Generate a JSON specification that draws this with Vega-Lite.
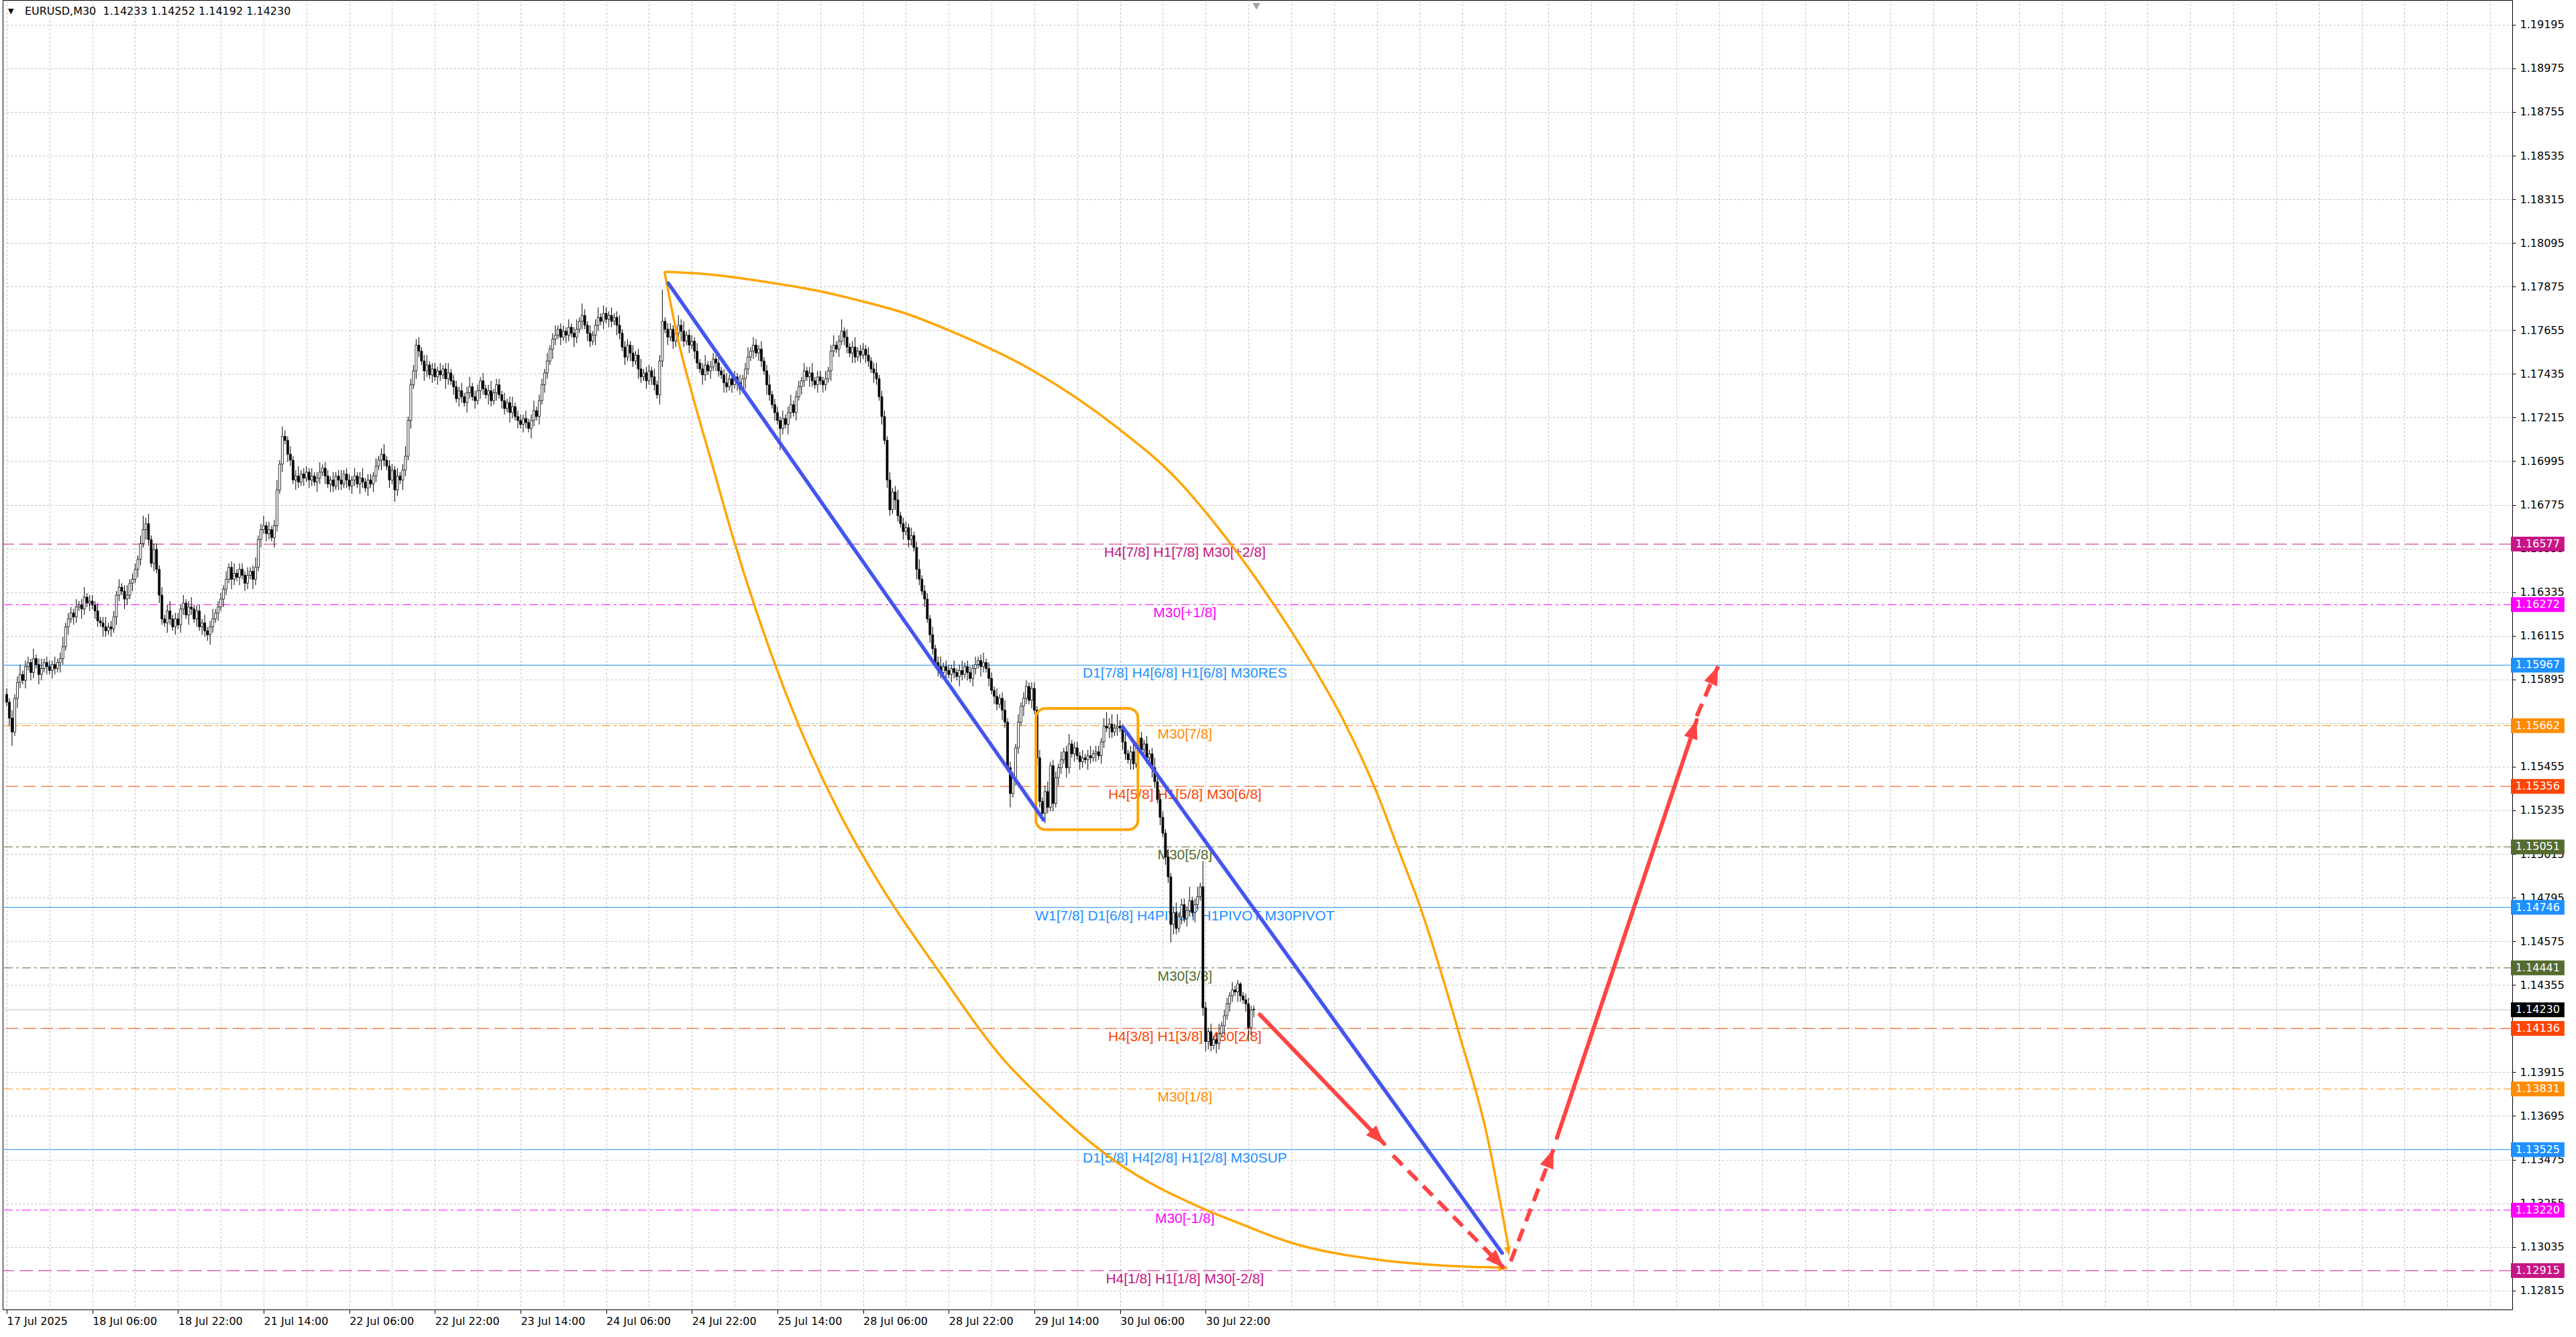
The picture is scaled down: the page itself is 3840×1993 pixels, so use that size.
{
"$schema": "https://vega.github.io/schema/vega-lite/v6.json",
"width": 3741, "height": 1952,
"autosize": "none",
"padding": {"left": 4, "top": 0, "right": 95, "bottom": 41},
"background": "white",
"config": {"view": {"stroke": "black", "strokeWidth": 1}},
"datasets": {
"levels": [
{"p":1.16577,"g":"pm2","t":"H4[7/8] H1[7/8] M30[+2/8]"},
{"p":1.16272,"g":"pm1","t":"M30[+1/8]"},
{"p":1.15967,"g":"sr","t":"D1[7/8] H4[6/8] H1[6/8] M30RES"},
{"p":1.15662,"g":"o","t":"M30[7/8]"},
{"p":1.15356,"g":"r","t":"H4[5/8] H1[5/8] M30[6/8]"},
{"p":1.15051,"g":"g","t":"M30[5/8]"},
{"p":1.14746,"g":"sr","t":"W1[7/8] D1[6/8] H4PIVOT H1PIVOT M30PIVOT"},
{"p":1.14441,"g":"g","t":"M30[3/8]"},
{"p":1.14230,"g":"px","t":""},
{"p":1.14136,"g":"r","t":"H4[3/8] H1[3/8] M30[2/8]"},
{"p":1.13831,"g":"o","t":"M30[1/8]"},
{"p":1.13525,"g":"sr","t":"D1[5/8] H4[2/8] H1[2/8] M30SUP"},
{"p":1.13220,"g":"pm1","t":"M30[-1/8]"},
{"p":1.12915,"g":"pm2","t":"H4[1/8] H1[1/8] M30[-2/8]"}
],
"bars": [
{"i":0,"o":1.1582,"h":1.1585,"l":1.1576,"c":1.1578},
{"i":1,"o":1.1578,"h":1.1580,"l":1.1566,"c":1.1570},
{"i":2,"o":1.1570,"h":1.1574,"l":1.1556,"c":1.1563},
{"i":3,"o":1.1563,"h":1.1582,"l":1.1561,"c":1.1580},
{"i":4,"o":1.1580,"h":1.1591,"l":1.1575,"c":1.1588},
{"i":5,"o":1.1588,"h":1.1597,"l":1.1585,"c":1.1592},
{"i":6,"o":1.1592,"h":1.1594,"l":1.1587,"c":1.1589},
{"i":7,"o":1.1589,"h":1.1599,"l":1.1585,"c":1.1596},
{"i":8,"o":1.1596,"h":1.1601,"l":1.1594,"c":1.1598},
{"i":9,"o":1.1598,"h":1.1600,"l":1.1589,"c":1.1593},
{"i":10,"o":1.1593,"h":1.1605,"l":1.1590,"c":1.1600},
{"i":11,"o":1.1600,"h":1.1602,"l":1.1595,"c":1.1597},
{"i":12,"o":1.1597,"h":1.1600,"l":1.1587,"c":1.1592},
{"i":13,"o":1.1592,"h":1.1600,"l":1.1589,"c":1.1595},
{"i":14,"o":1.1595,"h":1.1600,"l":1.1593,"c":1.1598},
{"i":15,"o":1.1598,"h":1.1601,"l":1.1592,"c":1.1596},
{"i":16,"o":1.1596,"h":1.1599,"l":1.1592,"c":1.1594},
{"i":17,"o":1.1594,"h":1.1599,"l":1.1590,"c":1.1597},
{"i":18,"o":1.1597,"h":1.1601,"l":1.1592,"c":1.1595},
{"i":19,"o":1.1595,"h":1.1600,"l":1.1593,"c":1.1598},
{"i":20,"o":1.1598,"h":1.1603,"l":1.1593,"c":1.1600},
{"i":21,"o":1.1600,"h":1.1611,"l":1.1597,"c":1.1606},
{"i":22,"o":1.1606,"h":1.1618,"l":1.1604,"c":1.1616},
{"i":23,"o":1.1616,"h":1.1623,"l":1.1612,"c":1.1620},
{"i":24,"o":1.1620,"h":1.1626,"l":1.1618,"c":1.1623},
{"i":25,"o":1.1623,"h":1.1625,"l":1.1617,"c":1.1621},
{"i":26,"o":1.1621,"h":1.1630,"l":1.1618,"c":1.1626},
{"i":27,"o":1.1626,"h":1.1629,"l":1.1624,"c":1.1627},
{"i":28,"o":1.1627,"h":1.1630,"l":1.1620,"c":1.1625},
{"i":29,"o":1.1625,"h":1.1636,"l":1.1622,"c":1.1631},
{"i":30,"o":1.1631,"h":1.1633,"l":1.1626,"c":1.1628},
{"i":31,"o":1.1628,"h":1.1632,"l":1.1624,"c":1.1629},
{"i":32,"o":1.1629,"h":1.1632,"l":1.1625,"c":1.1627},
{"i":33,"o":1.1627,"h":1.1629,"l":1.1620,"c":1.1624},
{"i":34,"o":1.1624,"h":1.1628,"l":1.1616,"c":1.1619},
{"i":35,"o":1.1619,"h":1.1621,"l":1.1616,"c":1.1618},
{"i":36,"o":1.1618,"h":1.1621,"l":1.1611,"c":1.1616},
{"i":37,"o":1.1616,"h":1.1621,"l":1.1611,"c":1.1614},
{"i":38,"o":1.1614,"h":1.1618,"l":1.1612,"c":1.1616},
{"i":39,"o":1.1616,"h":1.1619,"l":1.1611,"c":1.1615},
{"i":40,"o":1.1615,"h":1.1624,"l":1.1613,"c":1.1621},
{"i":41,"o":1.1621,"h":1.1634,"l":1.1617,"c":1.1632},
{"i":42,"o":1.1632,"h":1.1640,"l":1.1629,"c":1.1636},
{"i":43,"o":1.1636,"h":1.1638,"l":1.1632,"c":1.1634},
{"i":44,"o":1.1634,"h":1.1637,"l":1.1625,"c":1.1630},
{"i":45,"o":1.1630,"h":1.1637,"l":1.1627,"c":1.1632},
{"i":46,"o":1.1632,"h":1.1640,"l":1.1630,"c":1.1638},
{"i":47,"o":1.1638,"h":1.1643,"l":1.1634,"c":1.1640},
{"i":48,"o":1.1640,"h":1.1648,"l":1.1638,"c":1.1645},
{"i":49,"o":1.1645,"h":1.1652,"l":1.1641,"c":1.1650},
{"i":50,"o":1.1650,"h":1.1662,"l":1.1647,"c":1.1658},
{"i":51,"o":1.1658,"h":1.1672,"l":1.1656,"c":1.1665},
{"i":52,"o":1.1665,"h":1.1671,"l":1.1660,"c":1.1668},
{"i":53,"o":1.1668,"h":1.1673,"l":1.1657,"c":1.1660},
{"i":54,"o":1.1660,"h":1.1662,"l":1.1646,"c":1.1648},
{"i":55,"o":1.1648,"h":1.1658,"l":1.1644,"c":1.1655},
{"i":56,"o":1.1655,"h":1.1658,"l":1.1643,"c":1.1645},
{"i":57,"o":1.1645,"h":1.1647,"l":1.1628,"c":1.1632},
{"i":58,"o":1.1632,"h":1.1636,"l":1.1617,"c":1.1620},
{"i":59,"o":1.1620,"h":1.1622,"l":1.1616,"c":1.1618},
{"i":60,"o":1.1618,"h":1.1627,"l":1.1613,"c":1.1624},
{"i":61,"o":1.1624,"h":1.1629,"l":1.1617,"c":1.1620},
{"i":62,"o":1.1620,"h":1.1622,"l":1.1614,"c":1.1616},
{"i":63,"o":1.1616,"h":1.1623,"l":1.1612,"c":1.1620},
{"i":64,"o":1.1620,"h":1.1623,"l":1.1615,"c":1.1617},
{"i":65,"o":1.1617,"h":1.1627,"l":1.1613,"c":1.1625},
{"i":66,"o":1.1625,"h":1.1632,"l":1.1622,"c":1.1628},
{"i":67,"o":1.1628,"h":1.1630,"l":1.1620,"c":1.1622},
{"i":68,"o":1.1622,"h":1.1629,"l":1.1617,"c":1.1626},
{"i":69,"o":1.1626,"h":1.1631,"l":1.1622,"c":1.1625},
{"i":70,"o":1.1625,"h":1.1627,"l":1.1618,"c":1.1620},
{"i":71,"o":1.1620,"h":1.1627,"l":1.1616,"c":1.1624},
{"i":72,"o":1.1624,"h":1.1627,"l":1.1614,"c":1.1616},
{"i":73,"o":1.1616,"h":1.1620,"l":1.1612,"c":1.1618},
{"i":74,"o":1.1618,"h":1.1622,"l":1.1611,"c":1.1614},
{"i":75,"o":1.1614,"h":1.1616,"l":1.1609,"c":1.1612},
{"i":76,"o":1.1612,"h":1.1619,"l":1.1607,"c":1.1616},
{"i":77,"o":1.1616,"h":1.1625,"l":1.1613,"c":1.1620},
{"i":78,"o":1.1620,"h":1.1625,"l":1.1618,"c":1.1623},
{"i":79,"o":1.1623,"h":1.1629,"l":1.1619,"c":1.1626},
{"i":80,"o":1.1626,"h":1.1633,"l":1.1624,"c":1.1630},
{"i":81,"o":1.1630,"h":1.1637,"l":1.1626,"c":1.1635},
{"i":82,"o":1.1635,"h":1.1644,"l":1.1632,"c":1.1640},
{"i":83,"o":1.1640,"h":1.1648,"l":1.1638,"c":1.1646},
{"i":84,"o":1.1646,"h":1.1649,"l":1.1635,"c":1.1640},
{"i":85,"o":1.1640,"h":1.1648,"l":1.1637,"c":1.1643},
{"i":86,"o":1.1643,"h":1.1645,"l":1.1639,"c":1.1641},
{"i":87,"o":1.1641,"h":1.1648,"l":1.1637,"c":1.1645},
{"i":88,"o":1.1645,"h":1.1648,"l":1.1640,"c":1.1642},
{"i":89,"o":1.1642,"h":1.1644,"l":1.1634,"c":1.1638},
{"i":90,"o":1.1638,"h":1.1646,"l":1.1635,"c":1.1642},
{"i":91,"o":1.1642,"h":1.1646,"l":1.1640,"c":1.1644},
{"i":92,"o":1.1644,"h":1.1647,"l":1.1635,"c":1.1640},
{"i":93,"o":1.1640,"h":1.1651,"l":1.1637,"c":1.1646},
{"i":94,"o":1.1646,"h":1.1662,"l":1.1644,"c":1.1660},
{"i":95,"o":1.1660,"h":1.1668,"l":1.1656,"c":1.1665},
{"i":96,"o":1.1665,"h":1.1672,"l":1.1663,"c":1.1667},
{"i":97,"o":1.1667,"h":1.1669,"l":1.1659,"c":1.1663},
{"i":98,"o":1.1663,"h":1.1669,"l":1.1660,"c":1.1665},
{"i":99,"o":1.1665,"h":1.1667,"l":1.1659,"c":1.1661},
{"i":100,"o":1.1661,"h":1.1670,"l":1.1656,"c":1.1667},
{"i":101,"o":1.1667,"h":1.1690,"l":1.1664,"c":1.1685},
{"i":102,"o":1.1685,"h":1.1700,"l":1.1683,"c":1.1698},
{"i":103,"o":1.1698,"h":1.1717,"l":1.1694,"c":1.1712},
{"i":104,"o":1.1712,"h":1.1715,"l":1.1708,"c":1.1710},
{"i":105,"o":1.1710,"h":1.1712,"l":1.1699,"c":1.1703},
{"i":106,"o":1.1703,"h":1.1707,"l":1.1697,"c":1.1700},
{"i":107,"o":1.1700,"h":1.1702,"l":1.1688,"c":1.1690},
{"i":108,"o":1.1690,"h":1.1695,"l":1.1685,"c":1.1692},
{"i":109,"o":1.1692,"h":1.1697,"l":1.1686,"c":1.1689},
{"i":110,"o":1.1689,"h":1.1695,"l":1.1687,"c":1.1693},
{"i":111,"o":1.1693,"h":1.1696,"l":1.1687,"c":1.1691},
{"i":112,"o":1.1691,"h":1.1697,"l":1.1689,"c":1.1694},
{"i":113,"o":1.1694,"h":1.1696,"l":1.1686,"c":1.1690},
{"i":114,"o":1.1690,"h":1.1696,"l":1.1687,"c":1.1692},
{"i":115,"o":1.1692,"h":1.1694,"l":1.1687,"c":1.1689},
{"i":116,"o":1.1689,"h":1.1694,"l":1.1684,"c":1.1691},
{"i":117,"o":1.1691,"h":1.1699,"l":1.1688,"c":1.1694},
{"i":118,"o":1.1694,"h":1.1698,"l":1.1692,"c":1.1696},
{"i":119,"o":1.1696,"h":1.1699,"l":1.1688,"c":1.1692},
{"i":120,"o":1.1692,"h":1.1695,"l":1.1686,"c":1.1688},
{"i":121,"o":1.1688,"h":1.1692,"l":1.1684,"c":1.1690},
{"i":122,"o":1.1690,"h":1.1694,"l":1.1684,"c":1.1687},
{"i":123,"o":1.1687,"h":1.1694,"l":1.1685,"c":1.1692},
{"i":124,"o":1.1692,"h":1.1695,"l":1.1685,"c":1.1690},
{"i":125,"o":1.1690,"h":1.1695,"l":1.1685,"c":1.1688},
{"i":126,"o":1.1688,"h":1.1695,"l":1.1686,"c":1.1693},
{"i":127,"o":1.1693,"h":1.1696,"l":1.1686,"c":1.1690},
{"i":128,"o":1.1690,"h":1.1693,"l":1.1685,"c":1.1687},
{"i":129,"o":1.1687,"h":1.1692,"l":1.1683,"c":1.1690},
{"i":130,"o":1.1690,"h":1.1696,"l":1.1687,"c":1.1692},
{"i":131,"o":1.1692,"h":1.1694,"l":1.1686,"c":1.1688},
{"i":132,"o":1.1688,"h":1.1694,"l":1.1683,"c":1.1691},
{"i":133,"o":1.1691,"h":1.1696,"l":1.1686,"c":1.1689},
{"i":134,"o":1.1689,"h":1.1691,"l":1.1684,"c":1.1686},
{"i":135,"o":1.1686,"h":1.1693,"l":1.1682,"c":1.1690},
{"i":136,"o":1.1690,"h":1.1693,"l":1.1686,"c":1.1688},
{"i":137,"o":1.1688,"h":1.1694,"l":1.1684,"c":1.1692},
{"i":138,"o":1.1692,"h":1.1701,"l":1.1689,"c":1.1697},
{"i":139,"o":1.1697,"h":1.1702,"l":1.1695,"c":1.1700},
{"i":140,"o":1.1700,"h":1.1706,"l":1.1695,"c":1.1703},
{"i":141,"o":1.1703,"h":1.1708,"l":1.1697,"c":1.1700},
{"i":142,"o":1.1700,"h":1.1702,"l":1.1695,"c":1.1697},
{"i":143,"o":1.1697,"h":1.1700,"l":1.1686,"c":1.1690},
{"i":144,"o":1.1690,"h":1.1698,"l":1.1688,"c":1.1695},
{"i":145,"o":1.1695,"h":1.1697,"l":1.1679,"c":1.1685},
{"i":146,"o":1.1685,"h":1.1696,"l":1.1682,"c":1.1692},
{"i":147,"o":1.1692,"h":1.1694,"l":1.1688,"c":1.1690},
{"i":148,"o":1.1690,"h":1.1698,"l":1.1685,"c":1.1695},
{"i":149,"o":1.1695,"h":1.1707,"l":1.1692,"c":1.1702},
{"i":150,"o":1.1702,"h":1.1722,"l":1.1700,"c":1.1720},
{"i":151,"o":1.1720,"h":1.1741,"l":1.1716,"c":1.1738},
{"i":152,"o":1.1738,"h":1.1748,"l":1.1736,"c":1.1745},
{"i":153,"o":1.1745,"h":1.1761,"l":1.1741,"c":1.1758},
{"i":154,"o":1.1758,"h":1.1762,"l":1.1752,"c":1.1755},
{"i":155,"o":1.1755,"h":1.1757,"l":1.1748,"c":1.1750},
{"i":156,"o":1.1750,"h":1.1753,"l":1.1740,"c":1.1745},
{"i":157,"o":1.1745,"h":1.1753,"l":1.1742,"c":1.1748},
{"i":158,"o":1.1748,"h":1.1750,"l":1.1741,"c":1.1743},
{"i":159,"o":1.1743,"h":1.1749,"l":1.1739,"c":1.1746},
{"i":160,"o":1.1746,"h":1.1749,"l":1.1740,"c":1.1742},
{"i":161,"o":1.1742,"h":1.1747,"l":1.1738,"c":1.1745},
{"i":162,"o":1.1745,"h":1.1749,"l":1.1740,"c":1.1743},
{"i":163,"o":1.1743,"h":1.1748,"l":1.1741,"c":1.1746},
{"i":164,"o":1.1746,"h":1.1749,"l":1.1736,"c":1.1741},
{"i":165,"o":1.1741,"h":1.1749,"l":1.1738,"c":1.1744},
{"i":166,"o":1.1744,"h":1.1746,"l":1.1738,"c":1.1740},
{"i":167,"o":1.1740,"h":1.1743,"l":1.1733,"c":1.1737},
{"i":168,"o":1.1737,"h":1.1740,"l":1.1729,"c":1.1731},
{"i":169,"o":1.1731,"h":1.1737,"l":1.1727,"c":1.1735},
{"i":170,"o":1.1735,"h":1.1739,"l":1.1729,"c":1.1732},
{"i":171,"o":1.1732,"h":1.1734,"l":1.1727,"c":1.1729},
{"i":172,"o":1.1729,"h":1.1737,"l":1.1724,"c":1.1734},
{"i":173,"o":1.1734,"h":1.1742,"l":1.1731,"c":1.1737},
{"i":174,"o":1.1737,"h":1.1739,"l":1.1730,"c":1.1732},
{"i":175,"o":1.1732,"h":1.1735,"l":1.1726,"c":1.1730},
{"i":176,"o":1.1730,"h":1.1738,"l":1.1728,"c":1.1735},
{"i":177,"o":1.1735,"h":1.1742,"l":1.1731,"c":1.1740},
{"i":178,"o":1.1740,"h":1.1744,"l":1.1733,"c":1.1736},
{"i":179,"o":1.1736,"h":1.1738,"l":1.1731,"c":1.1733},
{"i":180,"o":1.1733,"h":1.1738,"l":1.1728,"c":1.1735},
{"i":181,"o":1.1735,"h":1.1740,"l":1.1727,"c":1.1730},
{"i":182,"o":1.1730,"h":1.1736,"l":1.1728,"c":1.1734},
{"i":183,"o":1.1734,"h":1.1741,"l":1.1730,"c":1.1738},
{"i":184,"o":1.1738,"h":1.1741,"l":1.1731,"c":1.1733},
{"i":185,"o":1.1733,"h":1.1735,"l":1.1726,"c":1.1730},
{"i":186,"o":1.1730,"h":1.1734,"l":1.1723,"c":1.1726},
{"i":187,"o":1.1726,"h":1.1731,"l":1.1724,"c":1.1729},
{"i":188,"o":1.1729,"h":1.1732,"l":1.1719,"c":1.1724},
{"i":189,"o":1.1724,"h":1.1732,"l":1.1721,"c":1.1727},
{"i":190,"o":1.1727,"h":1.1729,"l":1.1720,"c":1.1722},
{"i":191,"o":1.1722,"h":1.1725,"l":1.1716,"c":1.1720},
{"i":192,"o":1.1720,"h":1.1723,"l":1.1716,"c":1.1718},
{"i":193,"o":1.1718,"h":1.1723,"l":1.1714,"c":1.1721},
{"i":194,"o":1.1721,"h":1.1725,"l":1.1716,"c":1.1719},
{"i":195,"o":1.1719,"h":1.1721,"l":1.1714,"c":1.1716},
{"i":196,"o":1.1716,"h":1.1723,"l":1.1711,"c":1.1720},
{"i":197,"o":1.1720,"h":1.1730,"l":1.1717,"c":1.1725},
{"i":198,"o":1.1725,"h":1.1727,"l":1.1720,"c":1.1722},
{"i":199,"o":1.1722,"h":1.1733,"l":1.1718,"c":1.1730},
{"i":200,"o":1.1730,"h":1.1741,"l":1.1728,"c":1.1738},
{"i":201,"o":1.1738,"h":1.1746,"l":1.1734,"c":1.1744},
{"i":202,"o":1.1744,"h":1.1754,"l":1.1741,"c":1.1750},
{"i":203,"o":1.1750,"h":1.1758,"l":1.1748,"c":1.1756},
{"i":204,"o":1.1756,"h":1.1764,"l":1.1751,"c":1.1761},
{"i":205,"o":1.1761,"h":1.1768,"l":1.1758,"c":1.1763},
{"i":206,"o":1.1763,"h":1.1768,"l":1.1761,"c":1.1766},
{"i":207,"o":1.1766,"h":1.1769,"l":1.1758,"c":1.1762},
{"i":208,"o":1.1762,"h":1.1768,"l":1.1760,"c":1.1765},
{"i":209,"o":1.1765,"h":1.1767,"l":1.1759,"c":1.1763},
{"i":210,"o":1.1763,"h":1.1771,"l":1.1760,"c":1.1767},
{"i":211,"o":1.1767,"h":1.1769,"l":1.1762,"c":1.1764},
{"i":212,"o":1.1764,"h":1.1767,"l":1.1757,"c":1.1762},
{"i":213,"o":1.1762,"h":1.1771,"l":1.1759,"c":1.1766},
{"i":214,"o":1.1766,"h":1.1772,"l":1.1764,"c":1.1770},
{"i":215,"o":1.1770,"h":1.1779,"l":1.1766,"c":1.1773},
{"i":216,"o":1.1773,"h":1.1776,"l":1.1766,"c":1.1768},
{"i":217,"o":1.1768,"h":1.1770,"l":1.1760,"c":1.1764},
{"i":218,"o":1.1764,"h":1.1768,"l":1.1757,"c":1.1760},
{"i":219,"o":1.1760,"h":1.1765,"l":1.1758,"c":1.1763},
{"i":220,"o":1.1763,"h":1.1771,"l":1.1758,"c":1.1768},
{"i":221,"o":1.1768,"h":1.1777,"l":1.1765,"c":1.1772},
{"i":222,"o":1.1772,"h":1.1774,"l":1.1768,"c":1.1770},
{"i":223,"o":1.1770,"h":1.1778,"l":1.1766,"c":1.1774},
{"i":224,"o":1.1774,"h":1.1777,"l":1.1769,"c":1.1771},
{"i":225,"o":1.1771,"h":1.1775,"l":1.1767,"c":1.1773},
{"i":226,"o":1.1773,"h":1.1777,"l":1.1767,"c":1.1770},
{"i":227,"o":1.1770,"h":1.1774,"l":1.1768,"c":1.1772},
{"i":228,"o":1.1772,"h":1.1775,"l":1.1763,"c":1.1768},
{"i":229,"o":1.1768,"h":1.1773,"l":1.1761,"c":1.1764},
{"i":230,"o":1.1764,"h":1.1766,"l":1.1755,"c":1.1757},
{"i":231,"o":1.1757,"h":1.1760,"l":1.1748,"c":1.1752},
{"i":232,"o":1.1752,"h":1.1761,"l":1.1750,"c":1.1758},
{"i":233,"o":1.1758,"h":1.1760,"l":1.1750,"c":1.1754},
{"i":234,"o":1.1754,"h":1.1758,"l":1.1747,"c":1.1750},
{"i":235,"o":1.1750,"h":1.1755,"l":1.1748,"c":1.1753},
{"i":236,"o":1.1753,"h":1.1756,"l":1.1741,"c":1.1746},
{"i":237,"o":1.1746,"h":1.1751,"l":1.1739,"c":1.1742},
{"i":238,"o":1.1742,"h":1.1746,"l":1.1740,"c":1.1744},
{"i":239,"o":1.1744,"h":1.1747,"l":1.1736,"c":1.1740},
{"i":240,"o":1.1740,"h":1.1748,"l":1.1738,"c":1.1745},
{"i":241,"o":1.1745,"h":1.1747,"l":1.1738,"c":1.1742},
{"i":242,"o":1.1742,"h":1.1746,"l":1.1735,"c":1.1738},
{"i":243,"o":1.1738,"h":1.1740,"l":1.1731,"c":1.1733},
{"i":244,"o":1.1733,"h":1.1753,"l":1.1728,"c":1.1750},
{"i":245,"o":1.1750,"h":1.1786,"l":1.1747,"c":1.1770},
{"i":246,"o":1.1770,"h":1.1772,"l":1.1764,"c":1.1766},
{"i":247,"o":1.1766,"h":1.1769,"l":1.1758,"c":1.1762},
{"i":248,"o":1.1762,"h":1.1769,"l":1.1760,"c":1.1766},
{"i":249,"o":1.1766,"h":1.1768,"l":1.1756,"c":1.1760},
{"i":250,"o":1.1760,"h":1.1768,"l":1.1757,"c":1.1764},
{"i":251,"o":1.1764,"h":1.1773,"l":1.1762,"c":1.1768},
{"i":252,"o":1.1768,"h":1.1771,"l":1.1760,"c":1.1765},
{"i":253,"o":1.1765,"h":1.1770,"l":1.1757,"c":1.1760},
{"i":254,"o":1.1760,"h":1.1765,"l":1.1758,"c":1.1763},
{"i":255,"o":1.1763,"h":1.1766,"l":1.1754,"c":1.1758},
{"i":256,"o":1.1758,"h":1.1763,"l":1.1756,"c":1.1760},
{"i":257,"o":1.1760,"h":1.1762,"l":1.1751,"c":1.1755},
{"i":258,"o":1.1755,"h":1.1759,"l":1.1746,"c":1.1749},
{"i":259,"o":1.1749,"h":1.1751,"l":1.1744,"c":1.1746},
{"i":260,"o":1.1746,"h":1.1749,"l":1.1738,"c":1.1743},
{"i":261,"o":1.1743,"h":1.1753,"l":1.1740,"c":1.1748},
{"i":262,"o":1.1748,"h":1.1750,"l":1.1743,"c":1.1745},
{"i":263,"o":1.1745,"h":1.1750,"l":1.1741,"c":1.1747},
{"i":264,"o":1.1747,"h":1.1754,"l":1.1745,"c":1.1751},
{"i":265,"o":1.1751,"h":1.1753,"l":1.1745,"c":1.1749},
{"i":266,"o":1.1749,"h":1.1753,"l":1.1742,"c":1.1745},
{"i":267,"o":1.1745,"h":1.1747,"l":1.1741,"c":1.1743},
{"i":268,"o":1.1743,"h":1.1746,"l":1.1734,"c":1.1739},
{"i":269,"o":1.1739,"h":1.1744,"l":1.1734,"c":1.1737},
{"i":270,"o":1.1737,"h":1.1743,"l":1.1735,"c":1.1741},
{"i":271,"o":1.1741,"h":1.1744,"l":1.1734,"c":1.1738},
{"i":272,"o":1.1738,"h":1.1745,"l":1.1736,"c":1.1742},
{"i":273,"o":1.1742,"h":1.1744,"l":1.1735,"c":1.1739},
{"i":274,"o":1.1739,"h":1.1743,"l":1.1733,"c":1.1736},
{"i":275,"o":1.1736,"h":1.1743,"l":1.1734,"c":1.1741},
{"i":276,"o":1.1741,"h":1.1749,"l":1.1736,"c":1.1746},
{"i":277,"o":1.1746,"h":1.1757,"l":1.1743,"c":1.1752},
{"i":278,"o":1.1752,"h":1.1757,"l":1.1750,"c":1.1755},
{"i":279,"o":1.1755,"h":1.1762,"l":1.1751,"c":1.1758},
{"i":280,"o":1.1758,"h":1.1761,"l":1.1752,"c":1.1754},
{"i":281,"o":1.1754,"h":1.1758,"l":1.1750,"c":1.1756},
{"i":282,"o":1.1756,"h":1.1760,"l":1.1747,"c":1.1750},
{"i":283,"o":1.1750,"h":1.1752,"l":1.1743,"c":1.1745},
{"i":284,"o":1.1745,"h":1.1748,"l":1.1733,"c":1.1738},
{"i":285,"o":1.1738,"h":1.1743,"l":1.1730,"c":1.1733},
{"i":286,"o":1.1733,"h":1.1735,"l":1.1726,"c":1.1728},
{"i":287,"o":1.1728,"h":1.1731,"l":1.1720,"c":1.1724},
{"i":288,"o":1.1724,"h":1.1727,"l":1.1718,"c":1.1720},
{"i":289,"o":1.1720,"h":1.1722,"l":1.1705,"c":1.1716},
{"i":290,"o":1.1716,"h":1.1725,"l":1.1713,"c":1.1721},
{"i":291,"o":1.1721,"h":1.1723,"l":1.1716,"c":1.1718},
{"i":292,"o":1.1718,"h":1.1727,"l":1.1713,"c":1.1724},
{"i":293,"o":1.1724,"h":1.1733,"l":1.1721,"c":1.1728},
{"i":294,"o":1.1728,"h":1.1730,"l":1.1722,"c":1.1724},
{"i":295,"o":1.1724,"h":1.1735,"l":1.1720,"c":1.1732},
{"i":296,"o":1.1732,"h":1.1740,"l":1.1730,"c":1.1737},
{"i":297,"o":1.1737,"h":1.1742,"l":1.1733,"c":1.1740},
{"i":298,"o":1.1740,"h":1.1749,"l":1.1737,"c":1.1745},
{"i":299,"o":1.1745,"h":1.1747,"l":1.1740,"c":1.1742},
{"i":300,"o":1.1742,"h":1.1747,"l":1.1737,"c":1.1744},
{"i":301,"o":1.1744,"h":1.1749,"l":1.1737,"c":1.1740},
{"i":302,"o":1.1740,"h":1.1742,"l":1.1736,"c":1.1738},
{"i":303,"o":1.1738,"h":1.1745,"l":1.1734,"c":1.1742},
{"i":304,"o":1.1742,"h":1.1745,"l":1.1738,"c":1.1740},
{"i":305,"o":1.1740,"h":1.1742,"l":1.1734,"c":1.1738},
{"i":306,"o":1.1738,"h":1.1745,"l":1.1735,"c":1.1741},
{"i":307,"o":1.1741,"h":1.1747,"l":1.1739,"c":1.1745},
{"i":308,"o":1.1745,"h":1.1758,"l":1.1740,"c":1.1755},
{"i":309,"o":1.1755,"h":1.1763,"l":1.1752,"c":1.1758},
{"i":310,"o":1.1758,"h":1.1760,"l":1.1754,"c":1.1756},
{"i":311,"o":1.1756,"h":1.1763,"l":1.1752,"c":1.1760},
{"i":312,"o":1.1760,"h":1.1771,"l":1.1758,"c":1.1765},
{"i":313,"o":1.1765,"h":1.1767,"l":1.1758,"c":1.1762},
{"i":314,"o":1.1762,"h":1.1766,"l":1.1754,"c":1.1757},
{"i":315,"o":1.1757,"h":1.1759,"l":1.1752,"c":1.1754},
{"i":316,"o":1.1754,"h":1.1760,"l":1.1749,"c":1.1757},
{"i":317,"o":1.1757,"h":1.1762,"l":1.1749,"c":1.1752},
{"i":318,"o":1.1752,"h":1.1757,"l":1.1750,"c":1.1755},
{"i":319,"o":1.1755,"h":1.1758,"l":1.1749,"c":1.1753},
{"i":320,"o":1.1753,"h":1.1759,"l":1.1751,"c":1.1756},
{"i":321,"o":1.1756,"h":1.1758,"l":1.1749,"c":1.1753},
{"i":322,"o":1.1753,"h":1.1757,"l":1.1747,"c":1.1750},
{"i":323,"o":1.1750,"h":1.1752,"l":1.1744,"c":1.1746},
{"i":324,"o":1.1746,"h":1.1749,"l":1.1739,"c":1.1744},
{"i":325,"o":1.1744,"h":1.1749,"l":1.1738,"c":1.1741},
{"i":326,"o":1.1741,"h":1.1743,"l":1.1730,"c":1.1732},
{"i":327,"o":1.1732,"h":1.1735,"l":1.1718,"c":1.1722},
{"i":328,"o":1.1722,"h":1.1725,"l":1.1708,"c":1.1710},
{"i":329,"o":1.1710,"h":1.1712,"l":1.1686,"c":1.1690},
{"i":330,"o":1.1690,"h":1.1694,"l":1.1672,"c":1.1675},
{"i":331,"o":1.1675,"h":1.1686,"l":1.1673,"c":1.1684},
{"i":332,"o":1.1684,"h":1.1687,"l":1.1675,"c":1.1680},
{"i":333,"o":1.1680,"h":1.1685,"l":1.1669,"c":1.1672},
{"i":334,"o":1.1672,"h":1.1674,"l":1.1666,"c":1.1668},
{"i":335,"o":1.1668,"h":1.1671,"l":1.1660,"c":1.1664},
{"i":336,"o":1.1664,"h":1.1669,"l":1.1662,"c":1.1666},
{"i":337,"o":1.1666,"h":1.1668,"l":1.1656,"c":1.1660},
{"i":338,"o":1.1660,"h":1.1666,"l":1.1657,"c":1.1662},
{"i":339,"o":1.1662,"h":1.1664,"l":1.1654,"c":1.1656},
{"i":340,"o":1.1656,"h":1.1659,"l":1.1640,"c":1.1645},
{"i":341,"o":1.1645,"h":1.1650,"l":1.1637,"c":1.1640},
{"i":342,"o":1.1640,"h":1.1642,"l":1.1632,"c":1.1634},
{"i":343,"o":1.1634,"h":1.1637,"l":1.1626,"c":1.1630},
{"i":344,"o":1.1630,"h":1.1633,"l":1.1618,"c":1.1620},
{"i":345,"o":1.1620,"h":1.1622,"l":1.1608,"c":1.1612},
{"i":346,"o":1.1612,"h":1.1616,"l":1.1602,"c":1.1605},
{"i":347,"o":1.1605,"h":1.1607,"l":1.1596,"c":1.1598},
{"i":348,"o":1.1598,"h":1.1601,"l":1.1591,"c":1.1596},
{"i":349,"o":1.1596,"h":1.1601,"l":1.1590,"c":1.1593},
{"i":350,"o":1.1593,"h":1.1598,"l":1.1591,"c":1.1596},
{"i":351,"o":1.1596,"h":1.1599,"l":1.1590,"c":1.1594},
{"i":352,"o":1.1594,"h":1.1597,"l":1.1590,"c":1.1592},
{"i":353,"o":1.1592,"h":1.1597,"l":1.1588,"c":1.1595},
{"i":354,"o":1.1595,"h":1.1599,"l":1.1590,"c":1.1593},
{"i":355,"o":1.1593,"h":1.1595,"l":1.1589,"c":1.1591},
{"i":356,"o":1.1591,"h":1.1597,"l":1.1586,"c":1.1594},
{"i":357,"o":1.1594,"h":1.1599,"l":1.1589,"c":1.1592},
{"i":358,"o":1.1592,"h":1.1598,"l":1.1590,"c":1.1596},
{"i":359,"o":1.1596,"h":1.1599,"l":1.1589,"c":1.1593},
{"i":360,"o":1.1593,"h":1.1596,"l":1.1588,"c":1.1590},
{"i":361,"o":1.1590,"h":1.1597,"l":1.1586,"c":1.1595},
{"i":362,"o":1.1595,"h":1.1601,"l":1.1592,"c":1.1597},
{"i":363,"o":1.1597,"h":1.1601,"l":1.1595,"c":1.1599},
{"i":364,"o":1.1599,"h":1.1602,"l":1.1591,"c":1.1596},
{"i":365,"o":1.1596,"h":1.1603,"l":1.1593,"c":1.1598},
{"i":366,"o":1.1598,"h":1.1600,"l":1.1593,"c":1.1595},
{"i":367,"o":1.1595,"h":1.1598,"l":1.1586,"c":1.1590},
{"i":368,"o":1.1590,"h":1.1593,"l":1.1582,"c":1.1584},
{"i":369,"o":1.1584,"h":1.1586,"l":1.1577,"c":1.1581},
{"i":370,"o":1.1581,"h":1.1585,"l":1.1574,"c":1.1577},
{"i":371,"o":1.1577,"h":1.1582,"l":1.1575,"c":1.1580},
{"i":372,"o":1.1580,"h":1.1583,"l":1.1569,"c":1.1574},
{"i":373,"o":1.1574,"h":1.1579,"l":1.1565,"c":1.1568},
{"i":374,"o":1.1568,"h":1.1570,"l":1.1543,"c":1.1545},
{"i":375,"o":1.1545,"h":1.1548,"l":1.1525,"c":1.1532},
{"i":376,"o":1.1532,"h":1.1543,"l":1.1530,"c":1.1540},
{"i":377,"o":1.1540,"h":1.1557,"l":1.1536,"c":1.1555},
{"i":378,"o":1.1555,"h":1.1572,"l":1.1552,"c":1.1568},
{"i":379,"o":1.1568,"h":1.1578,"l":1.1566,"c":1.1576},
{"i":380,"o":1.1576,"h":1.1583,"l":1.1571,"c":1.1580},
{"i":381,"o":1.1580,"h":1.1589,"l":1.1577,"c":1.1586},
{"i":382,"o":1.1586,"h":1.1588,"l":1.1577,"c":1.1579},
{"i":383,"o":1.1579,"h":1.1588,"l":1.1575,"c":1.1585},
{"i":384,"o":1.1585,"h":1.1588,"l":1.1572,"c":1.1574},
{"i":385,"o":1.1574,"h":1.1576,"l":1.1546,"c":1.1550},
{"i":386,"o":1.1550,"h":1.1554,"l":1.1525,"c":1.1528},
{"i":387,"o":1.1528,"h":1.1530,"l":1.1518,"c":1.1522},
{"i":388,"o":1.1522,"h":1.1536,"l":1.1517,"c":1.1533},
{"i":389,"o":1.1533,"h":1.1538,"l":1.1522,"c":1.1525},
{"i":390,"o":1.1525,"h":1.1548,"l":1.1523,"c":1.1546},
{"i":391,"o":1.1546,"h":1.1549,"l":1.1523,"c":1.1527},
{"i":392,"o":1.1527,"h":1.1543,"l":1.1525,"c":1.1540},
{"i":393,"o":1.1540,"h":1.1547,"l":1.1536,"c":1.1545},
{"i":394,"o":1.1545,"h":1.1553,"l":1.1542,"c":1.1549},
{"i":395,"o":1.1549,"h":1.1555,"l":1.1547,"c":1.1553},
{"i":396,"o":1.1553,"h":1.1556,"l":1.1540,"c":1.1545},
{"i":397,"o":1.1545,"h":1.1562,"l":1.1542,"c":1.1557},
{"i":398,"o":1.1557,"h":1.1559,"l":1.1550,"c":1.1552},
{"i":399,"o":1.1552,"h":1.1558,"l":1.1548,"c":1.1555},
{"i":400,"o":1.1555,"h":1.1558,"l":1.1549,"c":1.1551},
{"i":401,"o":1.1551,"h":1.1553,"l":1.1544,"c":1.1548},
{"i":402,"o":1.1548,"h":1.1554,"l":1.1545,"c":1.1550},
{"i":403,"o":1.1550,"h":1.1552,"l":1.1547,"c":1.1549},
{"i":404,"o":1.1549,"h":1.1554,"l":1.1544,"c":1.1551},
{"i":405,"o":1.1551,"h":1.1556,"l":1.1547,"c":1.1550},
{"i":406,"o":1.1550,"h":1.1554,"l":1.1548,"c":1.1552},
{"i":407,"o":1.1552,"h":1.1556,"l":1.1548,"c":1.1553},
{"i":408,"o":1.1553,"h":1.1556,"l":1.1549,"c":1.1551},
{"i":409,"o":1.1551,"h":1.1560,"l":1.1547,"c":1.1558},
{"i":410,"o":1.1558,"h":1.1570,"l":1.1555,"c":1.1566},
{"i":411,"o":1.1566,"h":1.1573,"l":1.1563,"c":1.1565},
{"i":412,"o":1.1565,"h":1.1570,"l":1.1560,"c":1.1567},
{"i":413,"o":1.1567,"h":1.1572,"l":1.1560,"c":1.1563},
{"i":414,"o":1.1563,"h":1.1567,"l":1.1561,"c":1.1565},
{"i":415,"o":1.1565,"h":1.1572,"l":1.1561,"c":1.1566},
{"i":416,"o":1.1566,"h":1.1569,"l":1.1563,"c":1.1565},
{"i":417,"o":1.1565,"h":1.1567,"l":1.1554,"c":1.1558},
{"i":418,"o":1.1558,"h":1.1562,"l":1.1549,"c":1.1552},
{"i":419,"o":1.1552,"h":1.1554,"l":1.1547,"c":1.1549},
{"i":420,"o":1.1549,"h":1.1556,"l":1.1544,"c":1.1553},
{"i":421,"o":1.1553,"h":1.1558,"l":1.1544,"c":1.1547},
{"i":422,"o":1.1547,"h":1.1558,"l":1.1545,"c":1.1556},
{"i":423,"o":1.1556,"h":1.1566,"l":1.1552,"c":1.1560},
{"i":424,"o":1.1560,"h":1.1563,"l":1.1552,"c":1.1554},
{"i":425,"o":1.1554,"h":1.1559,"l":1.1550,"c":1.1557},
{"i":426,"o":1.1557,"h":1.1561,"l":1.1547,"c":1.1550},
{"i":427,"o":1.1550,"h":1.1554,"l":1.1548,"c":1.1552},
{"i":428,"o":1.1552,"h":1.1555,"l":1.1540,"c":1.1545},
{"i":429,"o":1.1545,"h":1.1550,"l":1.1535,"c":1.1538},
{"i":430,"o":1.1538,"h":1.1540,"l":1.1527,"c":1.1529},
{"i":431,"o":1.1529,"h":1.1532,"l":1.1516,"c":1.1520},
{"i":432,"o":1.1520,"h":1.1523,"l":1.1510,"c":1.1512},
{"i":433,"o":1.1512,"h":1.1514,"l":1.1496,"c":1.1500},
{"i":434,"o":1.1500,"h":1.1504,"l":1.1487,"c":1.1490},
{"i":435,"o":1.1490,"h":1.1492,"l":1.1457,"c":1.1466},
{"i":436,"o":1.1466,"h":1.1475,"l":1.1461,"c":1.1472},
{"i":437,"o":1.1472,"h":1.1477,"l":1.1461,"c":1.1464},
{"i":438,"o":1.1464,"h":1.1472,"l":1.1462,"c":1.1470},
{"i":439,"o":1.1470,"h":1.1479,"l":1.1466,"c":1.1476},
{"i":440,"o":1.1476,"h":1.1479,"l":1.1467,"c":1.1469},
{"i":441,"o":1.1469,"h":1.1475,"l":1.1465,"c":1.1473},
{"i":442,"o":1.1473,"h":1.1485,"l":1.1470,"c":1.1478},
{"i":443,"o":1.1478,"h":1.1480,"l":1.1470,"c":1.1472},
{"i":444,"o":1.1472,"h":1.1479,"l":1.1467,"c":1.1476},
{"i":445,"o":1.1476,"h":1.1485,"l":1.1473,"c":1.1480},
{"i":446,"o":1.1480,"h":1.1487,"l":1.1478,"c":1.1485},
{"i":447,"o":1.1485,"h":1.1498,"l":1.1420,"c":1.1424},
{"i":448,"o":1.1424,"h":1.1427,"l":1.1402,"c":1.1407},
{"i":449,"o":1.1407,"h":1.1414,"l":1.1403,"c":1.1412},
{"i":450,"o":1.1412,"h":1.1416,"l":1.1402,"c":1.1405},
{"i":451,"o":1.1405,"h":1.1410,"l":1.1403,"c":1.1408},
{"i":452,"o":1.1408,"h":1.1411,"l":1.1401,"c":1.1406},
{"i":453,"o":1.1406,"h":1.1416,"l":1.1403,"c":1.1411},
{"i":454,"o":1.1411,"h":1.1417,"l":1.1409,"c":1.1415},
{"i":455,"o":1.1415,"h":1.1423,"l":1.1411,"c":1.1420},
{"i":456,"o":1.1420,"h":1.1429,"l":1.1418,"c":1.1426},
{"i":457,"o":1.1426,"h":1.1432,"l":1.1422,"c":1.1430},
{"i":458,"o":1.1430,"h":1.1437,"l":1.1427,"c":1.1433},
{"i":459,"o":1.1433,"h":1.1435,"l":1.1430,"c":1.1432},
{"i":460,"o":1.1432,"h":1.1438,"l":1.1427,"c":1.1436},
{"i":461,"o":1.1436,"h":1.1437,"l":1.1427,"c":1.1430},
{"i":462,"o":1.1430,"h":1.1432,"l":1.1426,"c":1.1428},
{"i":463,"o":1.1428,"h":1.1431,"l":1.1422,"c":1.1426},
{"i":464,"o":1.1426,"h":1.1429,"l":1.1407,"c":1.1414},
{"i":465,"o":1.1414,"h":1.1425,"l":1.1410,"c":1.1423},
{"i":466,"o":1.14233,"h":1.14252,"l":1.14192,"c":1.14230}
],
"arcs": [
{"s":"L","k":0,"x":245.8,"y":1.1795},
{"s":"L","k":1,"x":251,"y":1.1760},
{"s":"L","k":2,"x":256.2,"y":1.1733},
{"s":"L","k":3,"x":263.8,"y":1.1697},
{"s":"L","k":4,"x":271.4,"y":1.1661},
{"s":"L","k":5,"x":291,"y":1.1583},
{"s":"L","k":6,"x":311.25,"y":1.1522},
{"s":"L","k":7,"x":323.7,"y":1.1492},
{"s":"L","k":8,"x":348,"y":1.1443},
{"s":"L","k":9,"x":373.75,"y":1.1396},
{"s":"L","k":10,"x":382.35,"y":1.1384},
{"s":"L","k":11,"x":413.9,"y":1.1347},
{"s":"L","k":12,"x":448.4,"y":1.1322},
{"s":"L","k":13,"x":461.25,"y":1.1315},
{"s":"L","k":14,"x":479,"y":1.1306},
{"s":"L","k":15,"x":512.3,"y":1.1297},
{"s":"L","k":16,"x":537.8,"y":1.1294},
{"s":"L","k":17,"x":560.75,"y":1.1293},
{"s":"R","k":0,"x":245.8,"y":1.1795},
{"s":"R","k":1,"x":263.8,"y":1.17935},
{"s":"R","k":2,"x":282.9,"y":1.1790},
{"s":"R","k":3,"x":302.1,"y":1.17856},
{"s":"R","k":4,"x":319.9,"y":1.1780},
{"s":"R","k":5,"x":336.25,"y":1.17738},
{"s":"R","k":6,"x":352.7,"y":1.17651},
{"s":"R","k":7,"x":383.8,"y":1.17449},
{"s":"R","k":8,"x":414.9,"y":1.17165},
{"s":"R","k":9,"x":435.6,"y":1.16927},
{"s":"R","k":10,"x":456.3,"y":1.16597},
{"s":"R","k":11,"x":473.8,"y":1.16266},
{"s":"R","k":12,"x":487.6,"y":1.15973},
{"s":"R","k":13,"x":499.5,"y":1.15689},
{"s":"R","k":14,"x":512.3,"y":1.15313},
{"s":"R","k":15,"x":520.1,"y":1.15036},
{"s":"R","k":16,"x":527.6,"y":1.14770},
{"s":"R","k":17,"x":542.9,"y":1.14101},
{"s":"R","k":18,"x":553.1,"y":1.13600},
{"s":"R","k":19,"x":561.4,"y":1.13015}
],
"blue": [
{"s":"1","x":247.2,"y":1.17892},{"s":"1","x":387.4,"y":1.15188},
{"s":"2","x":417,"y":1.15656},{"s":"2","x":558.8,"y":1.13004}
],
"redSolid": [
{"s":"a","x":468.25,"y":1.14206},{"s":"a","x":514.75,"y":1.13554},
{"s":"b","x":579.25,"y":1.13584},{"s":"b","x":631.5,"y":1.15690}
],
"redDash": [
{"s":"c","x":518,"y":1.13496},{"s":"c","x":559.5,"y":1.12928},
{"s":"d","x":562,"y":1.12962},{"s":"d","x":578,"y":1.13527},
{"s":"e","x":631.5,"y":1.15710},{"s":"e","x":639.5,"y":1.15962}
],
"redHeads": [
{"x":514.75,"y":1.13554,"a":136},
{"x":559.5,"y":1.12928,"a":135.5},
{"x":578,"y":1.13527,"a":21},
{"x":631.5,"y":1.15690,"a":18.5},
{"x":639.5,"y":1.15962,"a":23}
],
"orangeHeads": [
{"x":561.4,"y":1.12990,"a":169},
{"x":560.75,"y":1.12927,"a":92}
],
"box": [{"x1":384.6,"x2":422.7,"y1":1.15138,"y2":1.15749}]
},
"layer": [
{
"data": {"name": "levels"},
"mark": {"type": "rule", "strokeWidth": 1},
"encoding": {
"y": {"field": "p", "type": "quantitative", "title": null, "scale": {"domain": [1.127362, 1.193026], "nice": false, "zero": false}},
"color": {"field": "g", "type": "nominal", "legend": null, "scale": {"domain": ["pm2","pm1","sr","o","r","g","px"], "range": ["#C71585","#FF00FF","#1E90FF","#FF8C00","#FF4500","#556B2F","#C0C0C0"]}},
"strokeDash": {"field": "g", "type": "nominal", "legend": null, "scale": {"domain": ["pm2","pm1","sr","o","r","g","px"], "range": [[20,8],[13,5,4,5],[1,0],[13,5,4,5],[18,8],[13,5,4,5],[1,0]]}}
}
},
{
"data": {"name": "levels"},
"transform": [{"filter": "datum.t != ''"}],
"mark": {"type": "text", "font": "Liberation Sans", "fontSize": 21, "align": "center", "baseline": "middle", "dy": 13},
"encoding": {
"x": {"datum": 440.25, "type": "quantitative", "title": null, "scale": {"domain": [-0.25, 935], "nice": false, "zero": false}},
"y": {"field": "p", "type": "quantitative", "title": null, "scale": {"domain": [1.127362, 1.193026], "nice": false, "zero": false}},
"text": {"field": "t"},
"color": {"field": "g", "type": "nominal", "legend": null, "scale": {"domain": ["pm2","pm1","sr","o","r","g","px"], "range": ["#C71585","#FF00FF","#1E90FF","#FF8C00","#FF4500","#556B2F","#C0C0C0"]}}
}
},
{
"data": {"name": "bars"},
"mark": {"type": "rule", "color": "black", "strokeWidth": 1},
"encoding": {
"x": {"field": "i", "type": "quantitative", "title": null, "scale": {"domain": [-0.25, 935], "nice": false, "zero": false},
 "axis": {"orient": "bottom", "title": null, "values": [0,16,32,48,64,80,96,112,128,144,160,176,192,208,224,240,256,272,288,304,320,336,352,368,384,400,416,432,448,464,480,496,512,528,544,560,576,592,608,624,640,656,672,688,704,720,736,752,768,784,800,816,832,848,864,880,896,912,928],
  "labelExpr": "datum.value % 32 == 0 && datum.value <= 448 ? ['17 Jul 2025','18 Jul 06:00','18 Jul 22:00','21 Jul 14:00','22 Jul 06:00','22 Jul 22:00','23 Jul 14:00','24 Jul 06:00','24 Jul 22:00','25 Jul 14:00','28 Jul 06:00','28 Jul 22:00','29 Jul 14:00','30 Jul 06:00','30 Jul 22:00'][datum.value / 32] : ''",
  "grid": true, "gridDash": [3,3], "gridColor": "#C0C0C0", "gridWidth": 1,
  "domain": false, "ticks": true, "tickSize": 6, "tickWidth": 1,
  "tickColor": {"condition": {"test": "datum.value % 32 == 0 && datum.value <= 448", "value": "black"}, "value": "transparent"},
  "labelAlign": "left", "labelBaseline": "top", "labelPadding": 3, "labelFont": "DejaVu Sans", "labelFontSize": 16, "labelColor": "black",
  "labelOverlap": false, "labelFlush": false, "labelBound": false}},
"y": {"field": "l", "type": "quantitative", "title": null, "scale": {"domain": [1.127362, 1.193026], "nice": false, "zero": false},
 "axis": {"orient": "right", "title": null, "values": [1.12815,1.13035,1.13255,1.13475,1.13695,1.13915,1.14135,1.14355,1.14575,1.14795,1.15015,1.15235,1.15455,1.15675,1.15895,1.16115,1.16335,1.16555,1.16775,1.16995,1.17215,1.17435,1.17655,1.17875,1.18095,1.18315,1.18535,1.18755,1.18975,1.19195],
  "format": ".5f", "grid": true, "gridDash": [3,3], "gridColor": "#C0C0C0", "gridWidth": 1,
  "domain": false, "ticks": true, "tickSize": 5, "tickColor": "black", "tickWidth": 1,
  "labelAlign": "left", "labelBaseline": "middle", "labelPadding": 6, "labelFont": "DejaVu Sans", "labelFontSize": 16, "labelColor": "black",
  "labelOverlap": false, "labelFlush": false, "labelBound": false}},
"y2": {"field": "h"}
}
},
{
"data": {"name": "bars"},
"mark": {"type": "bar", "size": 3, "stroke": "black", "strokeWidth": 0.8},
"encoding": {
"x": {"field": "i", "type": "quantitative", "title": null, "scale": {"domain": [-0.25, 935], "nice": false, "zero": false}},
"y": {"field": "o", "type": "quantitative", "title": null, "scale": {"domain": [1.127362, 1.193026], "nice": false, "zero": false}},
"y2": {"field": "c"},
"fill": {"condition": {"test": "datum.c >= datum.o", "value": "white"}, "value": "black"}
}
},
{
"data": {"name": "arcs"},
"mark": {"type": "line", "color": "#FFA500", "strokeWidth": 3.5, "interpolate": "monotone"},
"encoding": {
"x": {"field": "x", "type": "quantitative", "title": null, "scale": {"domain": [-0.25, 935], "nice": false, "zero": false}},
"y": {"field": "y", "type": "quantitative", "title": null, "scale": {"domain": [1.127362, 1.193026], "nice": false, "zero": false}},
"detail": {"field": "s"},
"order": {"field": "k", "type": "quantitative"}
}
},
{
"data": {"name": "orangeHeads"},
"mark": {"type": "point", "shape": "M0,0L0.45,1.2L-0.45,1.2Z", "filled": true, "color": "#FFA500", "size": 500, "opacity": 1},
"encoding": {
"x": {"field": "x", "type": "quantitative", "title": null, "scale": {"domain": [-0.25, 935], "nice": false, "zero": false}},
"y": {"field": "y", "type": "quantitative", "title": null, "scale": {"domain": [1.127362, 1.193026], "nice": false, "zero": false}},
"angle": {"field": "a", "type": "quantitative", "scale": null}
}
},
{
"data": {"name": "box"},
"mark": {"type": "rect", "fill": "white", "fillOpacity": 0, "stroke": "#FFA500", "strokeWidth": 4, "cornerRadius": 14},
"encoding": {
"x": {"field": "x1", "type": "quantitative", "title": null, "scale": {"domain": [-0.25, 935], "nice": false, "zero": false}},
"x2": {"field": "x2"},
"y": {"field": "y1", "type": "quantitative", "title": null, "scale": {"domain": [1.127362, 1.193026], "nice": false, "zero": false}},
"y2": {"field": "y2"}
}
},
{
"data": {"name": "blue"},
"mark": {"type": "line", "color": "#4455EE", "strokeWidth": 5.5, "strokeCap": "round"},
"encoding": {
"x": {"field": "x", "type": "quantitative", "title": null, "scale": {"domain": [-0.25, 935], "nice": false, "zero": false}},
"y": {"field": "y", "type": "quantitative", "title": null, "scale": {"domain": [1.127362, 1.193026], "nice": false, "zero": false}},
"detail": {"field": "s"}
}
},
{
"data": {"name": "redSolid"},
"mark": {"type": "line", "color": "#FF4444", "strokeWidth": 6, "strokeCap": "round"},
"encoding": {
"x": {"field": "x", "type": "quantitative", "title": null, "scale": {"domain": [-0.25, 935], "nice": false, "zero": false}},
"y": {"field": "y", "type": "quantitative", "title": null, "scale": {"domain": [1.127362, 1.193026], "nice": false, "zero": false}},
"detail": {"field": "s"}
}
},
{
"data": {"name": "redDash"},
"mark": {"type": "line", "color": "#FF4444", "strokeWidth": 6, "strokeDash": [20,12]},
"encoding": {
"x": {"field": "x", "type": "quantitative", "title": null, "scale": {"domain": [-0.25, 935], "nice": false, "zero": false}},
"y": {"field": "y", "type": "quantitative", "title": null, "scale": {"domain": [1.127362, 1.193026], "nice": false, "zero": false}},
"detail": {"field": "s"}
}
},
{
"data": {"name": "redHeads"},
"mark": {"type": "point", "shape": "M0,0L0.45,1.2L-0.45,1.2Z", "filled": true, "color": "#FF4444", "size": 2200, "opacity": 1},
"encoding": {
"x": {"field": "x", "type": "quantitative", "title": null, "scale": {"domain": [-0.25, 935], "nice": false, "zero": false}},
"y": {"field": "y", "type": "quantitative", "title": null, "scale": {"domain": [1.127362, 1.193026], "nice": false, "zero": false}},
"angle": {"field": "a", "type": "quantitative", "scale": null}
}
},
{
"data": {"name": "levels"},
"mark": {"type": "bar", "size": 22},
"encoding": {
"x": {"datum": 935.75, "type": "quantitative", "title": null, "scale": {"domain": [-0.25, 935], "nice": false, "zero": false}},
"x2": {"datum": 955.75},
"y": {"field": "p", "type": "quantitative", "title": null, "scale": {"domain": [1.127362, 1.193026], "nice": false, "zero": false}},
"fill": {"field": "g", "type": "nominal", "legend": null, "scale": {"domain": ["pm2","pm1","sr","o","r","g","px"], "range": ["#C71585","#FF00FF","#1E90FF","#FF8C00","#FF4500","#556B2F","#000000"]}}
}
},
{
"data": {"name": "levels"},
"mark": {"type": "text", "font": "DejaVu Sans", "fontSize": 16, "align": "center", "baseline": "middle", "color": "white"},
"encoding": {
"x": {"datum": 945.75, "type": "quantitative", "title": null, "scale": {"domain": [-0.25, 935], "nice": false, "zero": false}},
"y": {"field": "p", "type": "quantitative", "title": null, "scale": {"domain": [1.127362, 1.193026], "nice": false, "zero": false}},
"text": {"field": "p", "type": "quantitative", "format": ".5f"}
}
},
{
"data": {"values": [{"t": "EURUSD,M30\u00a0 1.14233 1.14252 1.14192 1.14230"}]},
"mark": {"type": "text", "font": "DejaVu Sans", "fontSize": 16, "align": "left", "baseline": "middle", "color": "black"},
"encoding": {
"x": {"datum": 6.75, "type": "quantitative", "title": null, "scale": {"domain": [-0.25, 935], "nice": false, "zero": false}},
"y": {"datum": 1.19262, "type": "quantitative", "title": null, "scale": {"domain": [1.127362, 1.193026], "nice": false, "zero": false}},
"text": {"field": "t"}
}
},
{
"data": {"values": [{"t": "▼"}]},
"mark": {"type": "text", "font": "DejaVu Sans", "fontSize": 11, "align": "left", "baseline": "middle", "color": "black"},
"encoding": {
"x": {"datum": 0.5, "type": "quantitative", "title": null, "scale": {"domain": [-0.25, 935], "nice": false, "zero": false}},
"y": {"datum": 1.19262, "type": "quantitative", "title": null, "scale": {"domain": [1.127362, 1.193026], "nice": false, "zero": false}},
"text": {"field": "t"}
}
},
{
"data": {"values": [{"m": 1}]},
"mark": {"type": "point", "shape": "triangle-down", "filled": true, "color": "#A0A0A0", "size": 130, "opacity": 1},
"encoding": {
"x": {"datum": 467, "type": "quantitative", "title": null, "scale": {"domain": [-0.25, 935], "nice": false, "zero": false}},
"y": {"datum": 1.19288, "type": "quantitative", "title": null, "scale": {"domain": [1.127362, 1.193026], "nice": false, "zero": false}}
}
}
]
}
